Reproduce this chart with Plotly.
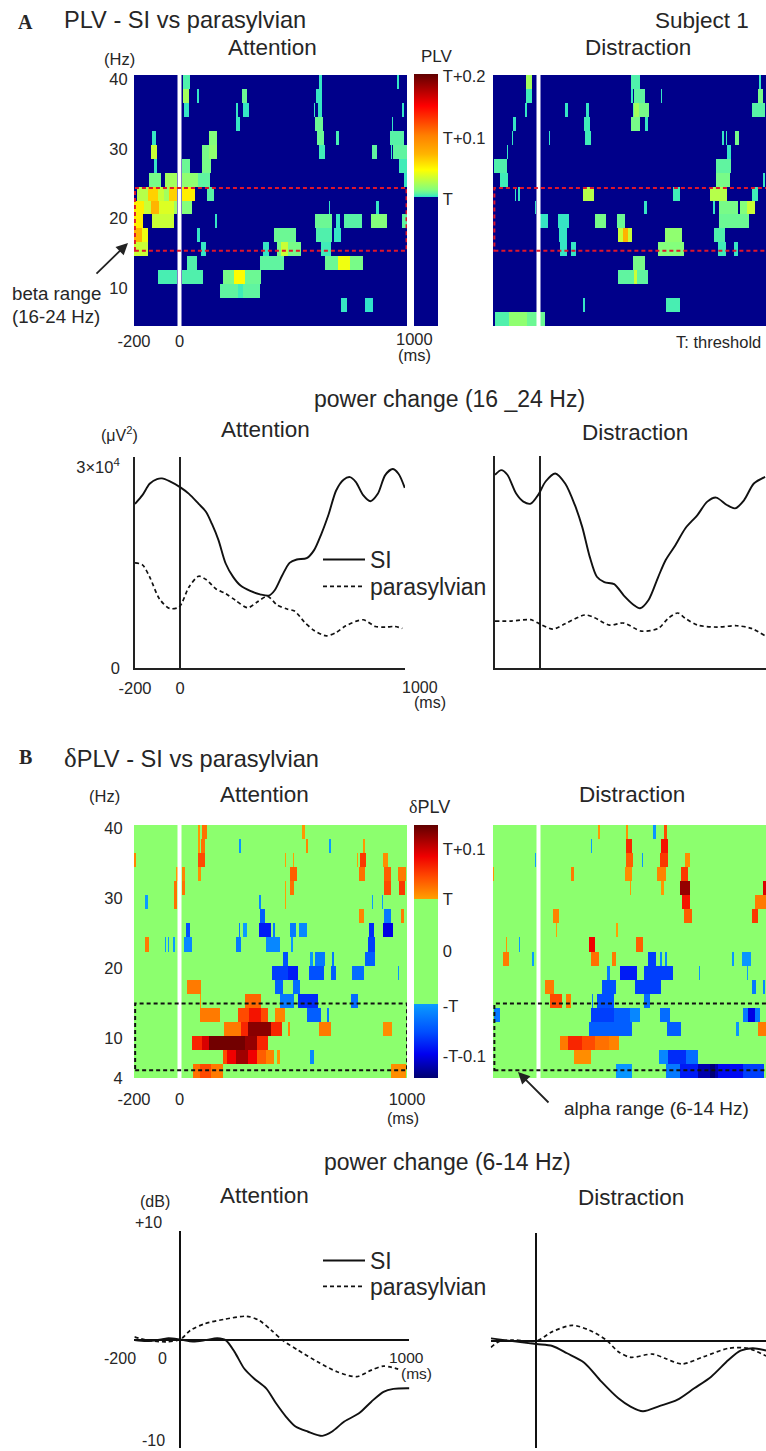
import numpy as np
import plotly.graph_objects as go

W, H = 766, 1451
FONT = "Liberation Sans"
INK = "#262626"

# ---------- cells: (row frequency Hz, start ms, end ms, level above threshold)
PLV_ATTENTION = [
 (40,13,43,.004),(40,613,623,.001),(40,957,966,.001),
 (38,13,40,.02),(38,75,84,.001),(38,275,297,.008),(38,600,623,.001),
 (36,20,38,.001),(36,251,257,.001),(36,278,303,.001),(36,590,597,.001),(36,609,626,.001),(36,978,986,.001),
 (34,251,265,.001),(34,594,631,.008),(34,935,942,.001),
 (32,-119,-107,.001),(32,131,163,.012),(32,606,635,.008),(32,689,701,.003),(32,925,983,.005),
 (30,-126,-101,.03),(30,101,131,.01),(30,131,163,.015),(30,616,638,.002),(30,847,870,.006),(30,929,936,.001),(30,942,1000,.006),
 (28,-112,-102,.001),(28,10,45,.008),(28,101,141,.01),(28,964,1000,.002),
 (26,-134,-78,.01),(26,-65,-9,.02),(26,9,79,.015),(26,79,135,.006),(26,983,1000,.001),
 (24,-185,-141,.025),(24,-141,-97,.06),(24,-97,-68,.03),(24,-68,-46,.02),(24,-46,-9,.06),(24,9,68,.05),(24,120,148,.005),
 (22,-200,-156,.05),(22,-156,-126,.03),(22,-126,-90,.07),(22,-90,-24,.035),(22,-24,-9,.02),(22,9,57,.012),(22,653,658,.001),(22,866,876,.001),
 (20,-200,-159,.05),(20,-119,-24,.03),(20,157,165,.001),(20,597,672,.008),(20,692,705,.001),(20,723,800,.005),(20,841,910,.012),(20,980,1000,.006),
 (18,-200,-163,.07),(18,-163,-138,.04),(18,75,90,.001),(18,417,510,.008),(18,601,672,.004),(18,679,711,.001),
 (16,-200,-138,.03),(16,97,116,.001),(16,366,395,.001),(16,429,447,.01),(16,447,476,.03),(16,476,535,.01),(16,620,664,.002),
 (14,35,76,.004),(14,356,459,.006),(14,641,697,.008),(14,697,748,.04),(14,748,807,.01),
 (12,-94,-9,.003),(12,9,106,.004),(12,190,240,.01),(12,240,290,.045),(12,290,359,.008),
 (10,182,255,.006),(10,255,278,.002),(10,278,353,.006),
 (8,711,735,.001),(8,814,850,.0005),
]
PLV_DISTRACTION = [
 (40,-53,-32,.02),(40,403,444,.004),(40,969,979,.001),
 (38,-53,-32,.002),(38,406,416,.001),(38,420,472,.006),(38,538,544,.001),(38,964,986,.01),
 (36,-60,-52,.001),(36,115,129,.001),(36,212,220,.001),(36,413,420,.006),(36,420,442,.02),(36,442,484,.01),(36,942,994,.005),
 (34,-112,-102,.001),(34,200,225,.002),(34,406,444,.01),(34,472,479,.001),
 (32,-116,-110,.001),(32,45,50,.0005),(32,203,229,.002),(32,807,817,.001),(32,826,832,.001),(32,864,881,.01),
 (30,-141,-134,.001),(30,832,847,.001),
 (28,-193,-141,.004),(28,780,844,.006),
 (26,-168,-134,.002),(26,780,839,.01),(26,983,994,.001),
 (24,-106,-99,.001),(24,-91,-82,.001),(24,197,247,.025),(24,589,619,.002),(24,754,832,.025),(24,938,967,.002),
 (22,-16,-12,.001),(22,467,476,.001),(22,763,773,.001),(22,795,876,.01),(22,883,915,.012),(22,915,952,.03),
 (20,6,38,.001),(20,85,135,.001),(20,250,294,.01),(20,344,379,.008),(20,795,923,.008),
 (18,91,126,.001),(18,350,370,.03),(18,370,395,.07),(18,395,410,.03),(18,557,631,.015),(18,770,820,.004),
 (16,97,123,.001),(16,144,165,.001),(16,523,638,.012),(16,791,826,.002),(16,861,873,.001),
 (14,417,472,.01),
 (12,351,420,.006),(12,420,435,.03),(12,435,479,.006),
 (8,197,206,.001),(8,560,620,.003),
 (6,-188,-130,.004),(6,-130,-50,.015),(6,-50,31,.008),
]
DPLV_ATTENTION = [
 (40,79,90,.11),(40,101,119,.13),(40,539,550,.11),
 (38,79,90,.11),(38,94,109,.13),(38,259,270,-.11),(38,553,567,.12),(38,656,664,-.106),(38,807,814,.11),
 (36,-200,-191,.12),(36,79,109,.15),(36,464,470,.106),(36,498,506,.106),(36,778,785,.106),(36,797,820,.16),(36,895,914,.115),
 (34,-13,-7,.11),(34,10,25,.12),(34,82,97,.115),(34,484,516,.14),(34,792,817,.13),(34,900,928,.14),(34,958,994,.125),
 (32,-24,-9,.13),(32,10,23,.13),(32,464,472,.106),(32,486,506,.13),(32,900,929,.15),(32,964,988,.16),
 (30,-149,-140,-.106),(30,-24,-9,.13),(30,351,358,-.12),(30,466,472,.106),(30,847,851,-.106),(30,888,894,-.106),
 (28,356,373,-.15),(28,792,808,.12),(28,900,932,-.13),(28,973,985,.125),
 (26,28,43,-.16),(26,259,267,-.13),(26,278,295,-.106),(26,351,398,-.19),(26,410,420,-.13),(26,486,510,-.13),(26,523,561,-.12),(26,835,853,-.18),(26,895,939,-.21),
 (24,-151,-134,.125),(24,-65,-59,-.106),(24,-50,-44,-.106),(24,-32,-22,-.106),(24,21,54,-.12),(24,251,270,-.13),(24,381,439,-.12),(24,491,498,-.11),(24,829,861,-.17),
 (22,454,476,-.16),(22,576,586,-.11),(22,594,642,-.13),(22,670,682,-.13),(22,817,858,-.15),
 (20,406,476,-.17),(20,476,520,-.19),(20,572,635,-.16),(20,663,689,-.15),(20,760,811,-.14),(20,958,967,-.11),
 (18,35,94,.125),(18,422,457,-.15),(18,498,528,-.14),
 (16,90,95,.11),(16,290,362,.135),(16,439,503,-.13),(16,520,611,-.18),(16,756,785,-.14),
 (14,91,182,.125),(14,253,307,.15),(14,307,359,.18),(14,359,391,.15),(14,420,464,.12),(14,561,620,-.15),(14,650,657,-.13),
 (12,197,270,.125),(12,270,300,.17),(12,300,400,.235),(12,400,450,.17),(12,476,485,.12),(12,616,664,.125),(12,895,933,.115),
 (10,53,100,.17),(10,100,130,.2),(10,130,290,.245),(10,290,340,.23),(10,340,391,.17),
 (8,190,210,.15),(8,210,250,.19),(8,250,300,.225),(8,300,340,.19),(8,340,380,.14),(8,380,417,.12),(8,429,438,.11),(8,575,592,-.12),
 (6,62,90,.13),(6,90,140,.15),(6,140,192,.125),(6,932,995,.115),
]
DPLV_DISTRACTION = [
 (40,262,269,.11),(40,384,393,.115),(40,504,516,-.11),(40,551,566,.15),
 (38,228,234,-.106),(38,384,409,.17),(38,541,572,.18),
 (36,-16,-12,-.106),(36,387,413,.14),(36,454,460,-.11),(36,536,569,.16),(36,644,663,.115),
 (34,-199,-195,.11),(34,144,157,.125),(34,379,412,.115),(34,519,559,.12),(34,626,654,.16),
 (32,398,404,.11),(32,541,548,.11),(32,622,663,.23),(32,986,1000,.2),
 (30,629,663,.18),(30,948,969,.125),(30,971,1000,.125),
 (28,66,90,.12),(28,641,675,.14),(28,942,966,.16),
 (26,75,81,.106),(26,342,348,.106),
 (24,-146,-140,.11),(24,-87,-81,-.106),(24,222,251,.19),(24,432,460,.14),
 (22,-156,-132,.125),(22,-28,-22,-.106),(22,228,265,.13),(22,323,338,.125),(22,482,514,-.17),(22,536,545,-.12),(22,556,564,-.12),(22,851,860,-.11),(22,894,933,-.11),
 (20,301,316,-.13),(20,360,434,-.19),(20,467,588,-.17),(20,703,711,-.11),(20,913,919,-.106),
 (18,28,70,.125),(18,278,339,-.16),(18,426,538,-.17),(18,942,955,-.13),(18,983,997,-.12),
 (16,48,107,.15),(16,118,145,.125),(16,234,241,-.13),(16,257,328,-.16),(16,463,489,-.14),
 (14,-197,-172,-.13),(14,228,330,-.17),(14,330,400,-.15),(14,400,445,-.12),(14,536,581,-.14),(14,898,920,-.13),(14,920,950,-.21),(14,950,977,-.13),
 (12,222,409,-.15),(12,567,626,-.15),(12,869,882,-.11),(12,963,1000,.125),
 (10,97,130,.125),(10,130,190,.17),(10,190,250,.15),(10,250,310,.13),(10,310,354,.12),
 (8,154,229,.115),(8,529,570,-.12),(8,570,650,-.18),(8,650,700,-.14),
 (6,340,409,-.11),(6,560,620,-.13),(6,620,700,-.19),(6,700,755,-.23),(6,755,775,-.25),(6,775,790,-.23),(6,790,900,-.2),(6,900,989,-.17),
]

# ---------- power curves (ms, value); beta in units of 1e4 uV^2, alpha in dB
BETA_ATT_SI_T = [-200,-167,-135,-102,-80,-47,0,40,83,116,142,171,203,236,269,312,356,395,421,454,487,519,563,596,628,661,694,727,755,781,814,846,879,912,945,971,999]
BETA_ATT_SI_V = [2.45,2.58,2.75,2.82,2.83,2.79,2.70,2.60,2.45,2.33,2.15,1.91,1.56,1.36,1.23,1.15,1.10,1.08,1.16,1.38,1.57,1.62,1.64,1.76,2.00,2.30,2.65,2.81,2.85,2.78,2.58,2.49,2.60,2.88,2.97,2.90,2.69]
BETA_ATT_PS_T = [-200,-167,-135,-91,-47,-4,40,83,116,160,203,247,301,345,389,432,476,509,552,596,650,694,737,814,868,912,955,988]
BETA_ATT_PS_V = [1.57,1.54,1.36,1.03,.89,.91,1.21,1.37,1.32,1.18,1.11,1.01,.90,.99,1.07,.94,.88,.85,.69,.56,.48,.53,.63,.72,.62,.61,.62,.59]
BETA_DIS_SI_T = [-200,-172,-145,-106,-74,-41,-8,25,68,112,155,188,221,253,286,330,373,417,445,482,526,559,602,646,700,744,783,831,868,907,951,1001]
BETA_DIS_SI_V = [2.88,2.95,2.88,2.60,2.48,2.45,2.58,2.78,2.90,2.75,2.43,2.10,1.66,1.36,1.28,1.25,1.08,.94,.89,1.01,1.36,1.61,1.83,2.08,2.28,2.48,2.54,2.43,2.38,2.50,2.75,2.85]
BETA_DIS_PS_T = [-200,-128,-41,3,57,112,199,243,308,373,450,526,570,613,646,700,788,875,940,1001]
BETA_DIS_PS_V = [.70,.70,.72,.65,.58,.66,.79,.75,.64,.67,.55,.59,.74,.82,.74,.64,.61,.63,.59,.48]
ALPHA_ATT_SI_T = [-200,-147,-83,-51,0,55,109,162,198,237,279,322,375,418,461,503,556,620,663,716,780,834,887,930,1000]
ALPHA_ATT_SI_V = [-.06,-.15,0,.12,0,-.18,-.06,.12,-.06,-1.14,-2.67,-3.59,-4.50,-5.88,-7.10,-8.02,-8.48,-8.88,-8.48,-7.56,-6.80,-5.73,-4.82,-4.55,-4.50]
ALPHA_ATT_PS_T = [-200,-147,-62,0,45,109,194,290,343,397,450,514,599,684,770,834,887,951]
ALPHA_ATT_PS_V = [.24,-.06,-.21,0,.86,1.47,1.87,2.14,1.78,.86,-.12,-.98,-2.05,-2.97,-3.43,-2.82,-2.45,-2.73]
ALPHA_DIS_SI_T = [-198,-122,0,70,134,209,284,358,411,465,539,614,689,763,838,891,944,1002]
ALPHA_DIS_SI_V = [.21,0,-.31,-.49,-1.16,-2.02,-3.77,-5.30,-6.06,-6.49,-6.00,-5.45,-4.38,-3.31,-1.78,-.92,-.70,-.90]
ALPHA_DIS_PS_T = [-198,-164,-100,0,70,156,230,305,358,411,507,561,635,731,838,923,1002]
ALPHA_DIS_PS_V = [-.61,-.09,.06,-.03,.83,1.41,.98,.06,-1.02,-1.53,-1.23,-1.62,-2.14,-1.47,-.70,-.70,-1.40]

ROW_FREQS = list(range(6, 42, 2))
PLV_STOPS = [(-.21,"#00008a"),(-.0002,"#00008a"),(0,"#2ce0d0"),(.002,"#40ecb8"),(.006,"#60f4a0"),(.012,"#84ff7c"),(.044,"#ffff00"),(.07,"#ffb400"),(.1,"#ff8000"),(.148,"#ff0000"),(.2,"#600000")]
DPLV_STOPS = [(-.253,"#000070"),(-.205,"#0000f0"),(-.16,"#0050ff"),(-.105,"#0a9cff"),(-.1049,"#8cff6e"),(.1049,"#8cff6e"),(.105,"#ffa000"),(.15,"#ff4a00"),(.19,"#f00000"),(.253,"#600000")]

def scale(stops):
    lo, hi = stops[0][0], stops[-1][0]
    return [[(z - lo) / (hi - lo), c] for z, c in stops]

TIME = np.arange(-197.5, 1000, 5.0)
def grid(cells, fill):
    z = np.full((len(ROW_FREQS), len(TIME)), float(fill))
    for f, t0, t1, level in cells:
        if f in ROW_FREQS and t1 > t0:
            z[ROW_FREQS.index(f), (TIME >= t0) & (TIME < t1)] = level
    return z

def dx(l, r): return [l / W, min(r / W, 1)]
def dy(t, b): return [1 - b / H, 1 - t / H]

fig = go.Figure()
layout = dict(width=W, height=H, margin=dict(l=0, r=0, t=0, b=0, autoexpand=False), paper_bgcolor="white", plot_bgcolor="white",
              font=dict(family=FONT, color=INK), shapes=[], annotations=[])
n = 0
def axes(xd, yd, xr, yr, xa=None, ya=None):
    global n
    n += 1
    xn, yn = ("xaxis%d" % n), ("yaxis%d" % n)
    base = dict(showgrid=False, zeroline=False, showticklabels=False, ticks="", showline=False)
    layout[xn] = {**base, "domain": xd, "range": xr, "anchor": "y%d" % n, **(xa or {})}
    layout[yn] = {**base, "domain": yd, "range": yr, "anchor": "x%d" % n, **(ya or {})}
    return "x%d" % n, "y%d" % n

def heat(cells, fill, yoff, coloraxis, xd, yd, yr, xa, ya, box, boxcolor):
    xn, yn = axes(xd, yd, [-200, 1000], yr, xa, ya)
    fig.add_trace(go.Heatmap(x=TIME, y=[f + yoff for f in ROW_FREQS], z=grid(cells, fill), coloraxis=coloraxis,
                             xaxis=xn, yaxis=yn, hoverinfo="skip"))
    layout["shapes"].append(dict(type="line", xref=xn, yref=yn, x0=0, x1=0, y0=yr[0], y1=yr[1], line=dict(color="white", width=4)))
    layout["shapes"].append(dict(type="rect", xref=xn, yref=yn, x0=box[0], x1=box[1], y0=box[2], y1=box[3],
                                 line=dict(color=boxcolor, width=2, dash="4px,3px")))

def curves(xd, yd, xr, yr, xa, ya, si, ps, legends=None):
    xn, yn = axes(xd, yd, xr, yr, xa, ya)
    fig.add_trace(go.Scatter(x=si[0], y=si[1], mode="lines", name="SI", xaxis=xn, yaxis=yn, hoverinfo="skip",
                             line=dict(color="#111", width=1.9, shape="spline", smoothing=.8),
                             showlegend=legends is not None, legend=legends[0] if legends else "legend"))
    fig.add_trace(go.Scatter(x=ps[0], y=ps[1], mode="lines", name="parasylvian", xaxis=xn, yaxis=yn, hoverinfo="skip",
                             line=dict(color="#111", width=1.7, dash="4px,3px", shape="spline", smoothing=.8),
                             showlegend=legends is not None, legend=legends[1] if legends else "legend"))

def label(x, y, text, size=16.5, anchor="center", family=None):
    layout["annotations"].append(dict(xref="paper", yref="paper", x=x / W, y=1 - y / H, text=text, showarrow=False,
                                      xanchor=anchor, yanchor="middle", font=dict(size=size, family=family or FONT, color=INK)))

TICK = dict(tickfont=dict(size=16.5, color=INK), ticks="outside", tickcolor="rgba(0,0,0,0)", showticklabels=True)

# ---- PLV maps
heat(PLV_ATTENTION, -.21, -.4, "coloraxis", dx(134, 407), dy(75, 326), [4.6, 40.6],
     {**TICK, "tickvals": [-200, 0], "ticktext": ["-200", "0"], "ticklen": 0},
     {**TICK, "tickvals": [10, 20, 30, 40], "ticktext": ["10", "20", "30", "40"], "ticklen": 2},
     [-196, 998, 15.4, 24.4], "#e0162b")
heat(PLV_DISTRACTION, -.21, -.4, "coloraxis", dx(493, 766), dy(75, 326), [4.6, 40.6], None, None,
     [-194, 1010, 15.4, 24.4], "#e0162b")
# ---- delta PLV maps
heat(DPLV_ATTENTION, 0, -.6, "coloraxis2", dx(134, 407), dy(825, 1078), [4.4, 40.4],
     {**TICK, "tickvals": [-200, 0, 1000], "ticktext": ["-200", "0", "1000"], "ticklen": 6},
     {**TICK, "tickvals": [4.4, 10, 20, 30, 40], "ticktext": ["4", "10", "20", "30", "40"], "ticklen": 7},
     [-195, 1000, 5.5, 15], "#111")
heat(DPLV_DISTRACTION, 0, -.6, "coloraxis2", dx(493, 766), dy(825, 1078), [4.4, 40.4], None, None,
     [-194, 1010, 5.5, 15], "#111")

layout["coloraxis"] = dict(cmin=-.21, cmax=.2, colorscale=scale(PLV_STOPS), colorbar=dict(
    thickness=24, thicknessmode="pixels", len=252 / H, lenmode="fraction", x=414 / W, xanchor="left",
    y=1 - 74 / H, yanchor="top", xpad=0, ypad=0, outlinewidth=0, ticks="outside", ticklen=2, tickcolor="rgba(0,0,0,0)",
    tickvals=[-.003, .095, .196], ticktext=["T", "T+0.1", "T+0.2"], tickfont=dict(size=16.5, color=INK)))
layout["coloraxis2"] = dict(cmin=-.253, cmax=.253, colorscale=scale(DPLV_STOPS), colorbar=dict(
    thickness=24, thicknessmode="pixels", len=253 / H, lenmode="fraction", x=414 / W, xanchor="left",
    y=1 - 825 / H, yanchor="top", xpad=0, ypad=0, outlinewidth=0, ticks="outside", ticklen=2, tickcolor="rgba(0,0,0,0)",
    tickvals=[-.21, -.11, 0, .105, .205], ticktext=["-T-0.1", "-T", "0", "T", "T+0.1"], tickfont=dict(size=16.5, color=INK)))

# ---- power curves
LINE = dict(showline=True, linecolor="#222", linewidth=1.6)
ZERO = dict(zeroline=True, zerolinecolor="#222", zerolinewidth=1.6)
ZERO2 = dict(zeroline=True, zerolinecolor="#111", zerolinewidth=2)
curves(dx(135, 405), dy(457, 668), [-200, 1000], [0, 3.15],
       {**LINE, **ZERO, **TICK, "tickvals": [-200, 0], "ticktext": ["-200", "0"], "ticklen": 4},
       {**LINE, **TICK, "tickvals": [0, 3], "ticktext": ["0", "3×10<sup>4</sup>"], "ticklen": 10},
       (BETA_ATT_SI_T, BETA_ATT_SI_V), (BETA_ATT_PS_T, BETA_ATT_PS_V), ("legend", "legend2"))
curves(dx(495, 766), dy(456, 668), [-200, 1005], [0, 3.16], {**LINE, **ZERO}, LINE,
       (BETA_DIS_SI_T, BETA_DIS_SI_V), (BETA_DIS_PS_T, BETA_DIS_PS_V))
curves(dx(134.4, 409.4), dy(1231, 1448), [-200, 1000], [-10, 10], ZERO2, ZERO2,
       (ALPHA_ATT_SI_T, ALPHA_ATT_SI_V), (ALPHA_ATT_PS_T, ALPHA_ATT_PS_V), ("legend3", "legend4"))
curves(dx(490.5, 766), dy(1233, 1448), [-200, 1002], [-9.87, 9.9], ZERO2, ZERO2,
       (ALPHA_DIS_SI_T, ALPHA_DIS_SI_V), (ALPHA_DIS_PS_T, ALPHA_DIS_PS_V))

LEG = dict(bgcolor="rgba(0,0,0,0)", font=dict(size=23, color=INK), xanchor="left", yanchor="top", tracegroupgap=0,
           itemwidth=42, borderwidth=0, x=318 / W)
layout["legend"] = {**LEG, "y": 1 - 538 / H}
layout["legend2"] = {**LEG, "y": 1 - 565 / H}
layout["legend3"] = {**LEG, "y": 1 - 1239 / H}
layout["legend4"] = {**LEG, "y": 1 - 1265 / H}

# ---- text
SERIF = "Liberation Serif"
label(25, 22, "<b>A</b>", 20, family=SERIF)
label(25, 757, "<b>B</b>", 20, family=SERIF)
label(62, 20, "PLV - SI vs parasylvian", 23.6, "left")
label(62, 758, "<span style='font-family:Liberation Serif;font-size:27px'>δ</span>PLV - SI vs parasylvian", 23.6, "left")
label(702, 21, "Subject 1", 22.5)
label(272, 47, "Attention", 22.5)
label(638, 47, "Distraction", 22.5)
label(119, 59, "(Hz)")
label(437, 57, "PLV", 17)
label(414, 339, "1000")
label(414, 355, "(ms)")
label(56, 294, "beta range", 18.7)
label(56, 317, "(16-24 Hz)", 18.7)
label(718, 342, "T: threshold")
label(449, 399, "power change (16 _24 Hz)", 23)
label(119, 434, "(μV<sup>2</sup>)", 16)
label(265.5, 430, "Attention", 22.5)
label(635, 433, "Distraction", 22.5)
label(420, 687, "1000", 16)
label(430, 702, "(ms)", 16)
label(104, 796, "(Hz)")
label(264, 794, "Attention", 22.5)
label(632, 794, "Distraction", 22.5)
label(429, 807, "<span style='font-family:Liberation Serif'>δ</span>PLV", 18)
label(403, 1118, "(ms)", 16)
label(656, 1108, "alpha range (6-14 Hz)", 19)
label(447, 1162, "power change (6-14 Hz)", 23)
label(264, 1195, "Attention", 22.5)
label(631, 1197, "Distraction", 22.5)
label(155, 1201, "(dB)", 16)
label(148, 1222, "+10", 16)
label(153, 1440, "-10", 16)
label(120, 1358, "-200", 16)
label(162, 1358, "0", 16)
label(406, 1357, "1000", 15.5)
label(416, 1373, "(ms)", 15.5)

def arrow(x0, y0, x1, y1):
    layout["annotations"].append(dict(xref="paper", yref="paper", x=x1 / W, y=1 - y1 / H, ax=x0 - x1, ay=y0 - y1, text="",
                                      showarrow=True, arrowhead=2, arrowsize=1.3, arrowwidth=1.8, arrowcolor="#222"))
arrow(95, 275, 128, 243)
arrow(550, 1104, 518, 1072)

fig.update_layout(**layout)
fig.write_html("out.html", config={"displayModeBar": False},
               post_script="document.body.style.margin='0';document.documentElement.style.overflow='hidden';")
